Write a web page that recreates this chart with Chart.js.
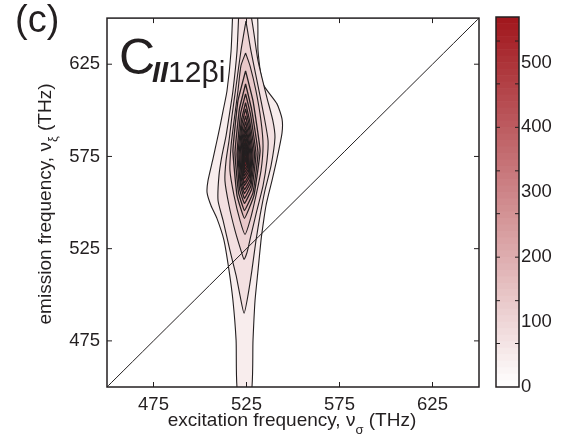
<!DOCTYPE html>
<html>
<head>
<meta charset="utf-8">
<script src="https://cdn.jsdelivr.net/npm/chart.js@4.4.0/dist/chart.umd.min.js"></script>
<style>
body { margin: 0; background: #fff; }
#wrap { position: relative; width: 576px; height: 439px; }
#main { position: absolute; left: 0; top: 0; }
#cbar { position: absolute; left: 470px; top: 0; }
</style>
</head>
<body>
<div id="wrap">
  <canvas id="main" width="490" height="439"></canvas>
  <canvas id="cbar" width="106" height="439"></canvas>
</div>
<script>
// axes (THz)
const axisMin = 450;
const axisMax = 650;
const xTicks = [475, 525, 575, 625];
const yTicks = [475, 525, 575, 625];

// contour levels, outermost first
const levels = [30, 60, 90, 120, 150, 180, 210, 240, 270, 300, 330, 360, 390, 420, 450, 480, 510, 540];

// contour outlines, [excitation, emission] in THz
const contourA = [[517.7,656.5],[516.7,632.2],[514.5,610.5],[512.4,599.7],[510.8,591.6],[509.1,583.5],[507.0,573.8],[504.3,561.9],[503.8,555.4],[505.9,548.4],[509.1,541.4],[512.9,529.5],[515.6,513.2],[517.7,497.0],[519.4,475.4],[520.4,445.7],
  [527.4,445.7],[528.5,475.4],[529.6,497.0],[531.2,513.2],[532.8,529.5],[534.4,541.4],[535.5,548.4],[537.1,555.4],[538.7,561.9],[541.4,573.8],[544.1,587.8],[544.1,595.4],[541.4,603.5],[533.9,614.3],[531.2,632.2],[530.1,656.5]];
const contourB = [[521.0,656.5],[519.9,632.2],[517.7,610.5],[516.1,599.7],[514.0,586.2],[511.8,575.4],[510.2,564.6],[509.7,551.1],[512.4,540.3],[516.1,524.1],[519.4,510.5],[521.5,499.7],[523.7,490.0],
  [525.8,499.7],[527.9,513.2],[530.1,529.5],[532.3,543.0],[534.9,556.5],[538.2,570.0],[540.3,585.1],[539.2,594.3],[536.0,606.8],[531.2,626.8],[526.3,656.5]];
const contourC = [[524.7,648.4],[527.4,632.2],[531.2,613.2],[534.4,597.0],[536.6,583.5],[536.0,572.7],[533.9,559.2],[530.6,545.7],[527.4,532.2],[525.3,523.0],[523.7,519.2],
  [522.0,524.1],[518.8,534.9],[515.6,548.4],[513.4,561.9],[514.0,572.7],[515.6,583.5],[517.2,597.0],[519.4,613.2],[522.0,632.2]];
const contourD = [[524.5,631.1],[526.9,624.1],[530.1,610.5],[532.8,594.3],[533.9,580.8],[532.8,567.3],[530.1,553.8],[526.9,540.3],[524.2,532.7],
  [521.5,540.3],[518.3,553.8],[516.1,567.3],[516.7,580.8],[518.3,594.3],[520.4,610.5],[522.0,624.1]];
const contourE = [[524.5,621.4],[528.5,605.1],[532.3,578.1],[529.0,553.8],[523.9,541.4],[519.9,553.8],[517.7,578.1],[520.4,605.1]];
const contourF = [[524.5,614.3],[527.7,600.8],[531.2,577.0],[528.5,555.4],[523.9,545.7],[520.7,555.4],[518.8,577.0],[521.2,600.8]];
const contourG = [[524.5,608.9],[527.1,598.1],[530.1,576.5],[527.9,557.6],[523.9,549.5],[521.2,557.6],[519.9,576.5],[521.8,598.1]];
const contourH = [[524.5,604.1],[526.6,594.9],[529.3,575.9],[527.4,559.2],[523.9,552.2],[521.8,559.2],[520.4,575.9],[522.3,594.9]];
const contourI = [[524.5,600.8],[526.3,592.7],[528.5,575.9],[527.1,560.8],[523.9,554.9],[522.0,560.8],[521.0,575.9],[522.6,592.7]];
const contourJ = [[524.5,597.0],[526.1,590.0],[527.9,575.4],[526.9,562.4],[523.9,557.0],[522.3,562.4],[521.5,575.4],[522.8,590.0]];
const contourK = [[524.5,593.8],[525.8,587.8],[527.4,575.4],[526.6,564.1],[523.9,559.2],[522.6,564.1],[522.0,575.4],[523.1,587.8]];
const contourL = [[524.5,591.1],[525.6,585.7],[526.9,574.9],[526.3,565.1],[523.9,560.8],[522.8,565.1],[522.5,574.9],[523.3,585.7]];
const contourM = [[524.5,588.9],[525.5,584.1],[526.3,574.9],[526.1,566.8],[523.9,563.0],[523.1,566.8],[522.8,574.9],[523.5,584.1]];
const contourN = [[524.5,586.8],[525.3,582.4],[525.9,574.9],[525.8,567.8],[523.9,564.6],[523.3,567.8],[523.1,574.9],[523.6,582.4]];
const contourO = [[524.5,584.6],[525.1,580.8],[525.6,574.9],[525.5,568.9],[523.9,566.2],[523.6,568.9],[523.4,574.9],[523.8,580.8]];
const contourP = [[524.5,582.4],[525.0,579.2],[525.4,574.9],[525.3,570.0],[523.9,567.8],[523.8,570.0],[523.7,574.9],[523.9,579.2]];
const contourQ = [[524.5,580.8],[524.9,578.1],[525.1,574.9],[525.0,571.1],[523.9,569.5],[523.8,571.1],[523.9,574.9],[524.0,578.1]];
const contourR = [[524.5,579.2],[524.9,574.9],[524.1,571.1],[524.1,574.9]];
const contours = [contourA, contourB, contourC, contourD, contourE, contourF, contourG, contourH, contourI,
  contourJ, contourK, contourL, contourM, contourN, contourO, contourP, contourQ, contourR];

const diagonal = [[450, 450], [650, 650]];

// colour bar
const cbarMax = 570;
const cbarBand = 10;
const cbarLabels = [0, 100, 200, 300, 400, 500];
const cbarMinor = [67, 133, 200, 267, 333, 400, 467, 533];

const ink = '#231f20';
const family = '"Liberation Sans", Arial, Helvetica, sans-serif';

function cmap(v) {
    const t = Math.max(0, Math.min(1, v / cbarMax));
    const r = Math.round(255 + (160 - 255) * t);
    const g = Math.round(255 + (22 - 255) * t);
    const b = Math.round(255 + (28 - 255) * t);
    return 'rgb(' + r + ',' + g + ',' + b + ')';
}

function toPoints(pts, closed) {
    const out = pts.map(p => ({x: p[0], y: p[1]}));
    if (closed) out.push({x: pts[0][0], y: pts[0][1]});
    return out;
}

// draws text pieces one after another, sub pieces smaller and lower
function drawRun(ctx, parts, x, y, center) {
    let total = 0;
    parts.forEach(p => { ctx.font = p.font; p.w = ctx.measureText(p.t).width; total += p.w; });
    let cx = center ? x - total / 2 : x;
    parts.forEach(p => {
        ctx.font = p.font;
        ctx.fillText(p.t, cx, y + (p.dy || 0));
        cx += p.w;
    });
}

// small tension keeps the outlines smooth (and avoids the sorted-x fast path)
const datasets = contours.map((pts, i) => ({
    data: toPoints(pts, true),
    showLine: true,
    fill: 'shape',
    backgroundColor: cmap(levels[i] + 15),
    borderColor: ink,
    borderWidth: i < 4 ? 1.1 : 1.3,
    pointRadius: 0,
    tension: i < 4 ? 0.2 : 0.1,
    order: contours.length - i
}));
datasets.push({
    data: toPoints(diagonal, false),
    showLine: true,
    fill: false,
    borderColor: ink,
    borderWidth: 1,
    pointRadius: 0,
    tension: 0.01,
    order: 0
});

const frame = {
    id: 'frame',
    afterDatasetsDraw(chart) {
        const {ctx, chartArea: a, scales: {x, y}} = chart;
        ctx.save();
        ctx.strokeStyle = ink;
        ctx.lineWidth = 1;
        ctx.beginPath();
        xTicks.forEach(v => {
            const px = x.getPixelForValue(v);
            ctx.moveTo(px, a.bottom); ctx.lineTo(px, a.bottom - 5);
            ctx.moveTo(px, a.top); ctx.lineTo(px, a.top + 5);
        });
        yTicks.forEach(v => {
            const py = y.getPixelForValue(v);
            ctx.moveTo(a.left, py); ctx.lineTo(a.left + 5, py);
            ctx.moveTo(a.right, py); ctx.lineTo(a.right - 5, py);
        });
        ctx.stroke();
        ctx.lineWidth = 1.5;
        ctx.strokeRect(a.left, a.top, a.right - a.left, a.bottom - a.top);

        ctx.fillStyle = ink;
        ctx.textBaseline = 'alphabetic';
        ctx.textAlign = 'left';
        // panel letter
        ctx.font = '38px ' + family;
        ctx.fillText('(c)', 15, 32);
        // label inside plot
        drawRun(ctx, [
            {t: 'C', font: '50px ' + family},
        ], 119, 74, false);
        drawRun(ctx, [
            {t: 'II', font: 'italic bold 29px ' + family},
            {t: '12\u03b2i', font: '30px ' + family}
        ], 152, 82, false);
        // x title
        drawRun(ctx, [
            {t: 'excitation frequency, \u03bd', font: '19px ' + family},
            {t: '\u03c3', font: '13px ' + family, dy: 8},
            {t: ' (THz)', font: '19px ' + family}
        ], 292, 426, true);
        // y title
        ctx.translate(51, 204);
        ctx.rotate(-Math.PI / 2);
        drawRun(ctx, [
            {t: 'emission frequency, \u03bd', font: '19px ' + family},
            {t: '\u03be', font: '13px ' + family, dy: 6},
            {t: ' (THz)', font: '19px ' + family}
        ], 0, 0, true);
        ctx.restore();
    }
};

const tickFont = {family: family, size: 18.5};

new Chart(document.getElementById('main'), {
    type: 'scatter',
    data: {datasets: datasets},
    options: {
        responsive: false,
        animation: false,
        events: [],
        layout: {padding: {top: 17, right: 11, left: 0, bottom: 0}},
        plugins: {legend: {display: false}, tooltip: {enabled: false}},
        scales: {
            x: {
                type: 'linear', min: axisMin, max: axisMax,
                afterBuildTicks: s => { s.ticks = xTicks.map(v => ({value: v})); },
                afterFit: s => { s.height = 52; },
                grid: {display: false, drawTicks: false},
                border: {display: false},
                ticks: {padding: 7, font: tickFont, color: ink, maxRotation: 0}
            },
            y: {
                type: 'linear', min: axisMin, max: axisMax,
                afterBuildTicks: s => { s.ticks = yTicks.map(v => ({value: v})); },
                afterFit: s => { s.width = 107; },
                grid: {display: false, drawTicks: false},
                border: {display: false},
                ticks: {padding: 7, font: tickFont, color: ink}
            }
        }
    },
    plugins: [frame]
});

const bands = [];
for (let v = 0; v < cbarMax; v += cbarBand) bands.push(v);

const cbarFrame = {
    id: 'cbarFrame',
    afterDatasetsDraw(chart) {
        const {ctx, chartArea: a, scales: {y}} = chart;
        ctx.save();
        ctx.strokeStyle = ink;
        ctx.lineWidth = 1;
        ctx.beginPath();
        cbarMinor.forEach(v => {
            const py = y.getPixelForValue(v);
            ctx.moveTo(a.left, py); ctx.lineTo(a.left + 4, py);
            ctx.moveTo(a.right, py); ctx.lineTo(a.right - 4, py);
        });
        ctx.stroke();
        ctx.lineWidth = 1.5;
        ctx.strokeRect(a.left, a.top, a.right - a.left, a.bottom - a.top);
        ctx.restore();
    }
};

new Chart(document.getElementById('cbar'), {
    type: 'bar',
    data: {
        labels: [''],
        datasets: bands.map(v => ({
            data: [cbarBand],
            backgroundColor: cmap(v + cbarBand / 2),
            borderWidth: 0,
            barPercentage: 1,
            categoryPercentage: 1
        }))
    },
    options: {
        responsive: false,
        animation: false,
        events: [],
        layout: {padding: {left: 26, top: 17, bottom: 52, right: 0}},
        plugins: {legend: {display: false}, tooltip: {enabled: false}},
        scales: {
            x: {stacked: true, display: false},
            y: {
                stacked: true, position: 'right', min: 0, max: cbarMax,
                afterBuildTicks: s => { s.ticks = cbarLabels.map(v => ({value: v})); },
                afterFit: s => { s.width = 57; },
                grid: {display: false, drawTicks: false},
                border: {display: false},
                ticks: {padding: 2, font: tickFont, color: ink}
            }
        }
    },
    plugins: [cbarFrame]
});
</script>
</body>
</html>
